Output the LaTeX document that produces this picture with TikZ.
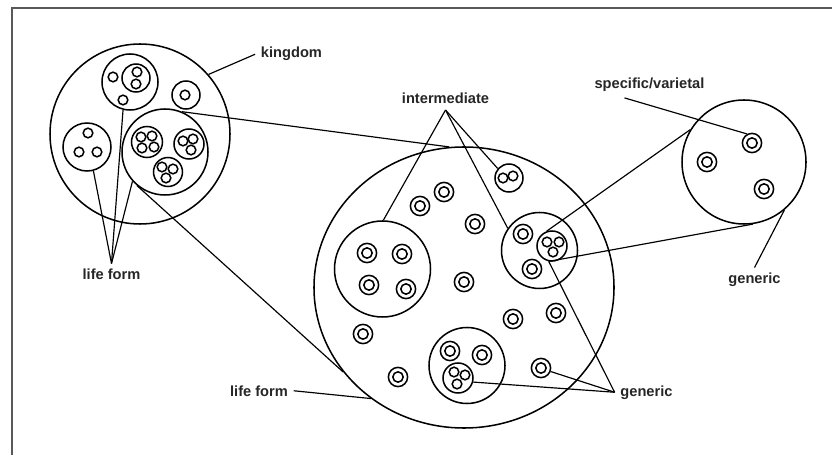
\documentclass[tikz,border=0pt]{standalone}
\usepackage{fontspec}
\setmainfont{Liberation Sans}
\usetikzlibrary{shapes.geometric}

\tikzset{
  blob/.style={circle, draw, line width=1.3pt, inner sep=0pt, minimum size=#1*0.06cm},
  dot/.style={blob=4.8},
  ring/.style={blob=9.6, path picture={\draw[line width=1.3pt] (path picture bounding box.center) circle (0.155cm);}},
  tag/.style={font=\fontsize{12.5}{15}\selectfont\bfseries, text=black!85, inner sep=0pt, outer sep=5pt, anchor=base},
  wire/.style={line width=1pt},
}

\begin{document}
\begin{tikzpicture}[x=0.03cm, y=-0.03cm]
  % Canvas and frame
  \useasboundingbox (0,0) rectangle (833,455);
  \draw[black!65, line width=1.4pt] (12,455) -- (12,8) -- (832,8);

  % Kingdom circle and its sub circles
  \node[blob=90] (K) at (140,134) {};
  \node[blob=28] (k1) at (130,82) {};
  \node[blob=14] (k1a) at (136,78) {};
  \node[blob=14] (k2) at (186,95) {};
  \node[blob=24] (k3) at (87,147) {};
  \node[blob=43] (k4) at (165,152) {};
  \node[blob=15.5] (c1) at (147,142) {};
  \node[blob=15] (c2) at (189,144) {};
  \node[blob=14.5] (c3) at (168,172) {};

  % Small circles inside the kingdom
  \foreach \x/\y [count=\i] in {113/77, 123/100, 137/72, 136/84, 185/95,
      88/133, 79/152, 97/152, 141/137, 152/136, 142/148, 154/147,
      183/141, 193/139, 191/150, 162/167, 173/169, 166/178}
    \node[dot] (s\i) at (\x,\y) {};

  % Intermediate circle and its sub circles
  \node[ellipse, draw, line width=1.3pt, inner sep=0pt, minimum width=9cm, minimum height=8.43cm] (M) at (464,287.5) {};
  \node[blob=48] (m1) at (382.5,269) {};
  \node[blob=14] (m2) at (509,178) {};
  \node[blob=38] (m3) at (539.5,250.5) {};
  \node[blob=15] (t1) at (552,246) {};
  \node[blob=38] (m4) at (467,365.5) {};
  \node[blob=15] (t2) at (458,378) {};

  % Small circles inside the intermediate circle
  \foreach \x/\y [count=\i] in {503/178, 513/176, 547/242, 559/242, 553/252,
      454/372, 465/375, 457/384}
    \node[dot] (d\i) at (\x,\y) {};

  % Rings inside the intermediate circle
  \foreach \x/\y [count=\i] in {367/253, 402/254, 369/285, 406/289, 444/192,
      420/206, 475/224, 464/282, 513/319, 556/313, 363/334, 398/377,
      541/368, 523/234, 532/269, 450/351, 482/355}
    \node[ring] (r\i) at (\x,\y) {};

  % Generic circle with its rings
  \node[blob=62] (R) at (744,162) {};
  \foreach \x/\y [count=\i] in {752/143, 707/162, 764/189}
    \node[ring] (v\i) at (\x,\y) {};

  % Labels
  \node[tag] (kingdom) at (291.5,58) {kingdom};
  \node[tag] (inter) at (445.5,104) {intermediate};
  \node[tag] (spec) at (649.5,89) {specific/varietal};
  \node[tag] (genR) at (754.5,284) {generic};
  \node[tag] (genB) at (646.5,396) {generic};
  \node[tag] (lifeU) at (111.5,280) {life form};
  \node[tag] (lifeL) at (259,396) {life form};

  % Connectors
  \draw[wire] (K.41) -- (kingdom.west);
  \foreach \a in {k3.285, k1.256, k4.222}
    \draw[wire] (lifeU.north) -- (\a);
  \draw[wire] (k4.67) -- (M.96);
  \draw[wire] (k4.230) -- (M.215);
  \draw[wire] (lifeL.east) -- (M.230);
  \foreach \a in {m1.89, m2.140, m3.145}
    \draw[wire] (inter.south) -- (\a);
  \draw[wire] (t1.110) -- (R.149);
  \draw[wire] (t1.258) -- (R.278);
  \draw[wire] ([xshift=-0.75cm]spec.south) -- (v1.119);
  \draw[wire] (genR.north) -- (R.310);
  \foreach \a in {t1.258, r13.340, t2.345}
    \draw[wire] (genB.west) -- (\a);
\end{tikzpicture}
\end{document}
